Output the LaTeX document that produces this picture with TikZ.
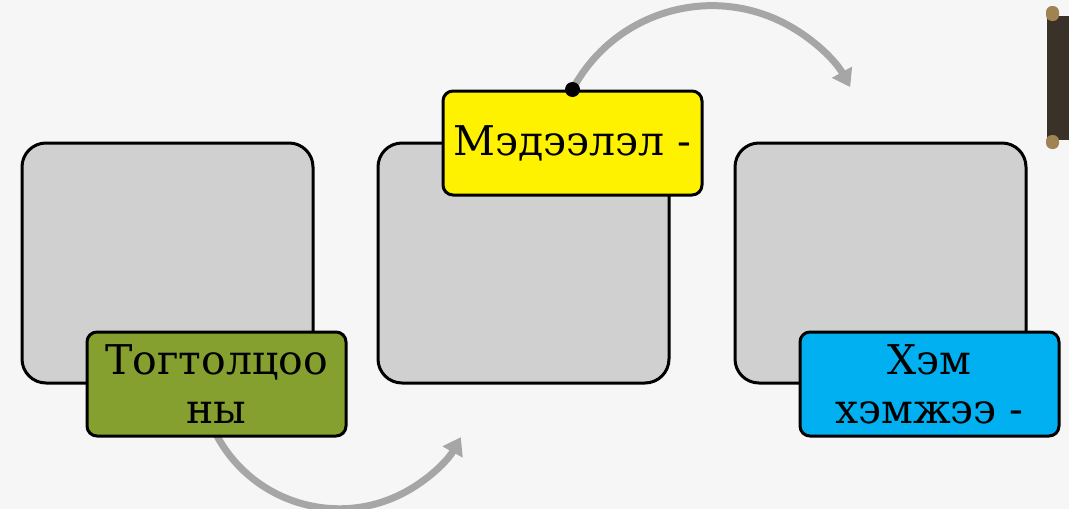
\documentclass[tikz,border=0pt]{standalone}
\usepackage{fontspec}
\setmainfont{DejaVu Serif}
\usetikzlibrary{arrows.meta}
\definecolor{bgc}{HTML}{F6F6F6}
\definecolor{boxgray}{HTML}{D0D0D0}
\definecolor{olive}{HTML}{86A02F}
\definecolor{skyb}{HTML}{00B0F0}
\definecolor{arrgray}{HTML}{A6A6A6}
\definecolor{bardark}{HTML}{3A3128}
\definecolor{capgold}{HTML}{A08352}
\tikzset{
  graybox/.style={draw=black, line width=3pt, fill=boxgray, rounded corners=24pt,
    minimum width=291pt, minimum height=240pt, inner sep=0pt},
  lab/.style={draw=black, line width=3pt, rounded corners=10pt,
    minimum width=259pt, minimum height=104pt, inner sep=0pt,
    align=center, font=\fontsize{41}{49}\selectfont},
  arr/.style={draw=arrgray, line width=7pt, -{Triangle[width=22pt,length=17pt]}}
}
\begin{document}
\begin{tikzpicture}[x=1pt,y=-1pt]
\useasboundingbox (0,0) rectangle (1069,509);
\fill[bgc] (0,0) rectangle (1069,509);
% scroll bar at right
\fill[bardark] (1047,16) rectangle (1069,140);
\fill[capgold, rounded corners=6pt] (1046,6) rectangle (1059,21);
\fill[capgold, rounded corners=6pt] (1046,135) rectangle (1059,149);
% gray boxes
\node[graybox] (b1) at (167.5,263) {};
\node[graybox] (b2) at (523.5,263) {};
\node[graybox] (b3) at (880.5,263) {};
% bottom arrow (under green label)
\draw[arr] (216.5,435) coordinate (gs) arc[start angle=152, end angle=29, radius=139] coordinate (ge);
% labels
\node[lab, fill=olive] (g) at (216.5,384) {Тогтолцоо\\ны};
\node[lab, fill=yellow] (y) at (572.5,143) {Мэдээлэл -};
\node[lab, fill=skyb] (c) at (929.5,384) {Хэм\\хэмжээ -};
% top arrow
\draw[arr] (y.north) arc[start angle=-152, end angle=-29, radius=158] coordinate (ye);
\fill[black] (y.north) circle[radius=7.5];
\end{tikzpicture}
\end{document}
